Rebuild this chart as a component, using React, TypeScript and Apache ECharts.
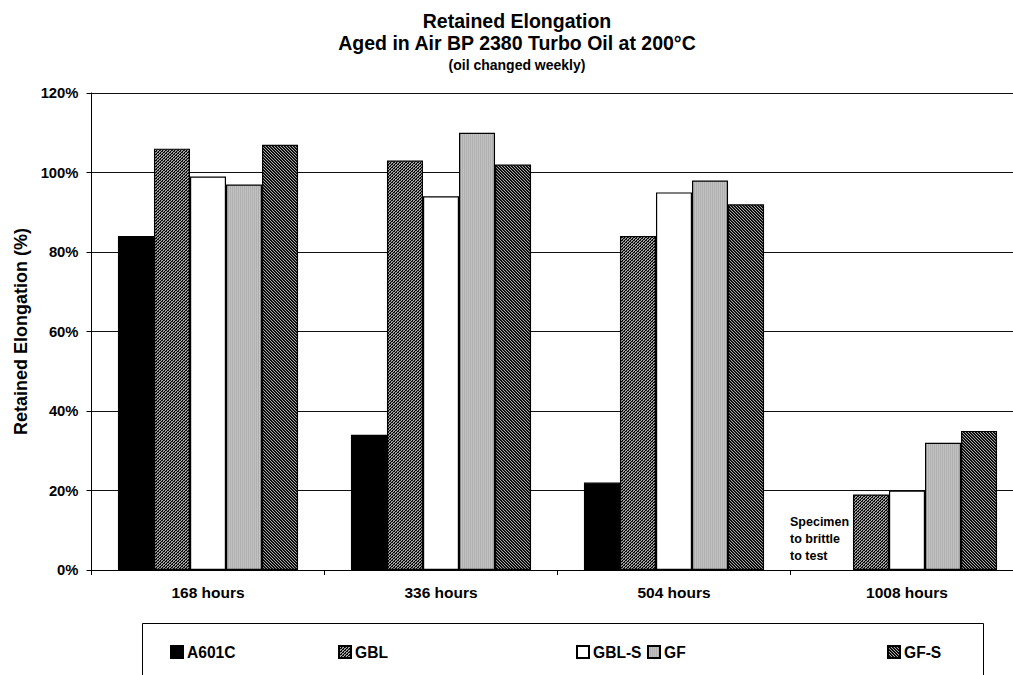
import React, { useEffect, useRef } from "react";
import * as echarts from "echarts";

const categories = ["168 hours", "336 hours", "504 hours", "1008 hours"];
const seriesNames = ["A601C", "GBL", "GBL-S", "GF", "GF-S"];
const a601c: (number | null)[] = [84, 34, 22, null];
const gbl: (number | null)[] = [106, 103, 84, 19];
const gblS: (number | null)[] = [99, 94, 95, 20];
const gf: (number | null)[] = [97, 110, 98, 32];
const gfS: (number | null)[] = [107, 102, 92, 35];
const yTicks = [0, 20, 40, 60, 80, 100, 120];
const legendLeft = [170, 338, 576, 647, 887];

function makePattern(kind: string) {
  const size = 6;
  const c = document.createElement("canvas");
  c.width = size;
  c.height = size;
  const ctx = c.getContext("2d")!;
  for (let x = 0; x < size; x++) {
    for (let y = 0; y < size; y++) {
      let col = "#ffffff";
      if (kind === "gbl") {
        const m = (x + y) % 3;
        col = m === 0 ? "#000000" : m === 1 ? (x % 2 === 0 ? "#222222" : "#888888") : "#b0b0b0";
      } else if (kind === "gfs") {
        const m = ((x - y) % 3 + 3) % 3;
        col = m === 0 ? "#000000" : m === 1 ? "#1e1e1e" : "#aaaaaa";
      } else if (kind === "gf") {
        col = x % 2 === 0 ? "#b0b0b0" : "#c2c2c2";
      }
      ctx.fillStyle = col;
      ctx.fillRect(x, y, 1, 1);
    }
  }
  return { image: c, repeat: "repeat", imageWidth: size, imageHeight: size } as any;
}

export default function App() {
  const ref = useRef<HTMLDivElement>(null);
  useEffect(() => {
    document.body.style.margin = "0";
    const chart = echarts.init(ref.current!, null, { renderer: "svg" });
    const font = "'Liberation Sans', Arial, sans-serif";
    const colors = ["#000000", makePattern("gbl"), "#ffffff", makePattern("gf"), makePattern("gfs")];
    const datas = [a601c, gbl, gblS, gf, gfS];
    const series = seriesNames.map((name, i) => ({
      name,
      type: "bar",
      data: datas[i],
      barGap: "0%",
      barCategoryGap: "22.7%",
      itemStyle: { color: colors[i], borderColor: "#000", borderWidth: 1.2 },
    }));
    const legends = seriesNames.map((name, i) => ({
      data: [name],
      left: legendLeft[i],
      top: 643,
      padding: 0,
      orient: "horizontal",
      icon: "rect",
      itemWidth: 12,
      itemHeight: 12,
      itemGap: 4,
      textStyle: { fontFamily: font, fontWeight: "bold", fontSize: 15.6, lineHeight: 18, color: "#000", padding: [0, 0, 0, -1] },
      selectedMode: false,
    }));
    chart.setOption({
      animation: false,
      backgroundColor: "#fff",
      title: [
        {
          text: "Retained Elongation\nAged in Air BP 2380 Turbo Oil at 200°C",
          subtext: "(oil changed weekly)",
          left: 512,
          textAlign: "center",
          top: 5,
          itemGap: 4,
          textStyle: { fontFamily: font, fontWeight: "bold", fontSize: 19.5, lineHeight: 22, color: "#000" },
          subtextStyle: { fontFamily: font, fontWeight: "bold", fontSize: 14, color: "#000" },
        },
      ],
      legend: legends,
      grid: { left: 91.5, top: 93, height: 477, width: 932 },
      xAxis: {
        type: "category",
        data: categories,
        axisLine: { lineStyle: { color: "#000", width: 1 } },
        axisTick: { show: true, length: 5, inside: false, lineStyle: { color: "#000" } },
        axisLabel: { fontFamily: font, fontWeight: "bold", fontSize: 15.5, color: "#000", margin: 14 },
      },
      yAxis: {
        type: "value",
        min: 0,
        max: 120,
        interval: 20,
        name: "Retained Elongation (%)",
        nameLocation: "middle",
        nameGap: 48,
        nameTextStyle: { fontFamily: font, fontWeight: "bold", fontSize: 18, color: "#000" },
        axisLine: { show: true, lineStyle: { color: "#000", width: 1 } },
        axisTick: { show: true, length: 5, lineStyle: { color: "#000" } },
        axisLabel: {
          fontFamily: font,
          fontWeight: "bold",
          fontSize: 14.8,
          color: "#000",
          margin: 13,
          formatter: (v: number) => (yTicks.includes(v) ? v + "%" : ""),
        },
        splitLine: { show: true, lineStyle: { color: "#111", width: 1 } },
      },
      graphic: [
        {
          type: "rect",
          shape: { x: 142.5, y: 623.5, width: 841, height: 70 },
          style: { fill: "none", stroke: "#000", lineWidth: 1 },
          silent: true,
          z: -1,
        },
        {
          type: "text",
          left: 790,
          top: 513,
          style: {
            text: "Specimen\nto brittle\nto test",
            font: "bold 12.5px 'Liberation Sans', Arial, sans-serif",
            lineHeight: 17,
            fill: "#000",
          },
        },
      ],
      series,
    });
    return () => chart.dispose();
  }, []);
  return (
    <div style={{ width: 1013, height: 675, position: "absolute", left: 0, top: 0, overflow: "hidden" }}>
      <div ref={ref} style={{ width: 1040, height: 675 }} />
    </div>
  );
}
